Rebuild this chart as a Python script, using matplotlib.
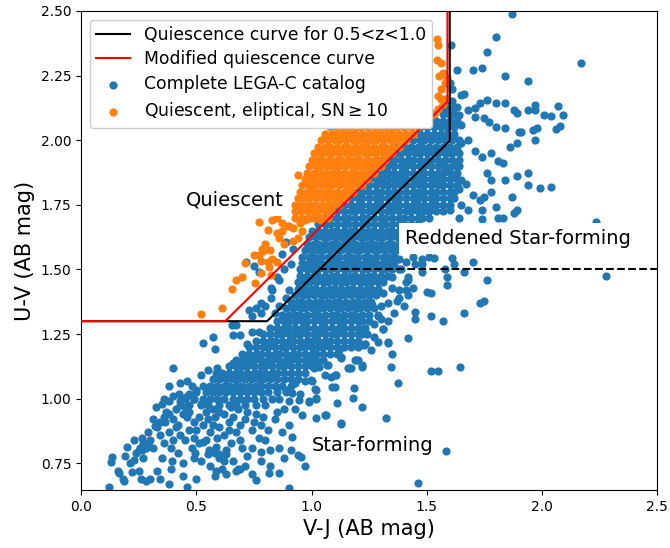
import numpy as np
import matplotlib.pyplot as plt

# quiescence boundaries in the UVJ plane
vj_black = [0.0, 0.807, 1.6, 1.6]
uv_black = [1.3, 1.3, 1.998, 2.6]
vj_red = [0.0, 0.625, 1.59, 1.59]
uv_red = [1.3, 1.3, 2.149, 2.6]
vj_dash = [1.034, 2.5]
uv_dash = [1.5, 1.5]

blue_core_rows = [
    (0.975, [0.43, 0.47, 0.52, 0.55, 0.60, 0.64, 0.67, 0.71, 0.76, 0.80]),
    (1.000, [0.45, 0.49, 0.53, 0.56, 0.59, 0.62, 0.66, 0.69, 0.72, 0.75, 0.79, 0.83]),
    (1.025, [0.50, 0.54, 0.57, 0.60, 0.63, 0.66, 0.69, 0.72, 0.75, 0.78, 0.81, 0.85, 0.89]),
    (1.050, [0.53, 0.56, 0.59, 0.62, 0.64, 0.67, 0.70, 0.73, 0.76, 0.78, 0.81, 0.84, 0.87, 0.91]),
    (1.075, [0.57, 0.60, 0.63, 0.66, 0.68, 0.71, 0.74, 0.77, 0.79, 0.82, 0.85, 0.88, 0.91, 0.94]),
    (1.100, [0.61, 0.64, 0.67, 0.69, 0.72, 0.75, 0.77, 0.80, 0.83, 0.85, 0.88, 0.91, 0.94, 0.97]),
    (1.125, [0.64, 0.67, 0.70, 0.72, 0.75, 0.78, 0.80, 0.83, 0.86, 0.88, 0.91, 0.94, 0.97, 1.00, 1.03]),
    (1.150, [0.67, 0.70, 0.73, 0.75, 0.78, 0.81, 0.83, 0.86, 0.89, 0.91, 0.94, 0.97, 0.99, 1.02, 1.05]),
    (1.175, [0.70, 0.73, 0.76, 0.78, 0.81, 0.84, 0.86, 0.89, 0.92, 0.94, 0.97, 1.00, 1.02, 1.05, 1.08, 1.11]),
    (1.200, [0.73, 0.76, 0.79, 0.81, 0.84, 0.87, 0.89, 0.92, 0.95, 0.97, 1.00, 1.03, 1.05, 1.08, 1.11, 1.14]),
    (1.225, [0.76, 0.79, 0.82, 0.84, 0.87, 0.90, 0.92, 0.95, 0.98, 1.00, 1.03, 1.06, 1.08, 1.11, 1.14, 1.17, 1.20]),
    (1.250, [0.79, 0.82, 0.85, 0.87, 0.90, 0.93, 0.95, 0.98, 1.01, 1.03, 1.06, 1.09, 1.11, 1.14, 1.17, 1.20, 1.22]),
    (1.275, [0.82, 0.85, 0.88, 0.90, 0.93, 0.96, 0.98, 1.01, 1.04, 1.06, 1.09, 1.12, 1.14, 1.17, 1.20, 1.23]),
    (1.300, [0.85, 0.88, 0.90, 0.93, 0.96, 0.98, 1.01, 1.04, 1.06, 1.09, 1.12, 1.14, 1.17, 1.20, 1.22, 1.25]),
    (1.325, [0.87, 0.90, 0.93, 0.95, 0.98, 1.01, 1.03, 1.06, 1.09, 1.11, 1.14, 1.17, 1.19, 1.22, 1.25]),
    (1.350, [0.89, 0.92, 0.95, 0.97, 1.00, 1.03, 1.05, 1.08, 1.11, 1.13, 1.16, 1.19, 1.21, 1.24, 1.27]),
    (1.375, [0.91, 0.94, 0.96, 0.99, 1.02, 1.04, 1.07, 1.10, 1.12, 1.15, 1.18, 1.20, 1.23, 1.26]),
    (1.400, [0.93, 0.96, 0.98, 1.01, 1.04, 1.06, 1.09, 1.12, 1.14, 1.17, 1.20, 1.22, 1.25, 1.28]),
    (1.425, [0.94, 0.97, 1.00, 1.02, 1.05, 1.08, 1.10, 1.13, 1.16, 1.18, 1.21, 1.24, 1.26, 1.29]),
    (1.450, [0.94, 0.97, 0.99, 1.02, 1.05, 1.07, 1.10, 1.13, 1.15, 1.18, 1.21, 1.23, 1.26, 1.29, 1.31]),
    (1.475, [0.95, 0.98, 1.01, 1.03, 1.06, 1.09, 1.11, 1.14, 1.17, 1.19, 1.22, 1.25, 1.27, 1.30, 1.33]),
    (1.500, [0.95, 0.98, 1.00, 1.03, 1.06, 1.08, 1.11, 1.14, 1.16, 1.19, 1.22, 1.24, 1.27, 1.30, 1.32, 1.35]),
    (1.525, [0.96, 0.99, 1.02, 1.04, 1.07, 1.10, 1.12, 1.15, 1.18, 1.20, 1.23, 1.26, 1.28, 1.31, 1.34, 1.36]),
    (1.550, [0.96, 0.99, 1.01, 1.04, 1.07, 1.09, 1.12, 1.15, 1.17, 1.20, 1.23, 1.25, 1.28, 1.31, 1.33, 1.36]),
    (1.575, [0.97, 1.00, 1.03, 1.05, 1.08, 1.11, 1.13, 1.16, 1.19, 1.21, 1.24, 1.27, 1.29, 1.32, 1.35, 1.37]),
    (1.600, [0.98, 1.01, 1.03, 1.06, 1.09, 1.11, 1.14, 1.17, 1.19, 1.22, 1.25, 1.27, 1.30, 1.33, 1.35, 1.38]),
    (1.625, [0.99, 1.02, 1.05, 1.07, 1.10, 1.13, 1.15, 1.18, 1.21, 1.23, 1.26, 1.29, 1.31, 1.34, 1.37]),
    (1.650, [1.00, 1.03, 1.06, 1.09, 1.11, 1.14, 1.17, 1.19, 1.22, 1.25, 1.27, 1.30, 1.33, 1.35, 1.38]),
    (1.675, [1.03, 1.06, 1.08, 1.11, 1.14, 1.16, 1.19, 1.22, 1.24, 1.27, 1.30, 1.32, 1.35, 1.38, 1.40, 1.43, 1.46]),
    (1.700, [1.06, 1.08, 1.11, 1.14, 1.16, 1.19, 1.22, 1.24, 1.27, 1.30, 1.32, 1.35, 1.38, 1.40, 1.43, 1.46, 1.48, 1.51]),
    (1.725, [1.09, 1.11, 1.14, 1.17, 1.19, 1.22, 1.25, 1.27, 1.30, 1.33, 1.35, 1.38, 1.41, 1.43, 1.46, 1.49, 1.51, 1.54, 1.57]),
    (1.750, [1.12, 1.14, 1.17, 1.20, 1.22, 1.25, 1.28, 1.30, 1.33, 1.36, 1.38, 1.41, 1.44, 1.46, 1.49, 1.52, 1.54, 1.57, 1.60]),
    (1.775, [1.14, 1.17, 1.20, 1.22, 1.25, 1.28, 1.30, 1.33, 1.36, 1.38, 1.41, 1.44, 1.46, 1.49, 1.52, 1.54, 1.57, 1.60, 1.62]),
    (1.800, [1.17, 1.20, 1.22, 1.25, 1.28, 1.30, 1.33, 1.36, 1.38, 1.41, 1.44, 1.46, 1.49, 1.52, 1.54, 1.57, 1.60, 1.62]),
    (1.825, [1.20, 1.23, 1.25, 1.28, 1.31, 1.33, 1.36, 1.39, 1.41, 1.44, 1.47, 1.49, 1.52, 1.55, 1.57, 1.60, 1.63]),
    (1.850, [1.22, 1.25, 1.28, 1.30, 1.33, 1.36, 1.38, 1.41, 1.44, 1.46, 1.49, 1.52, 1.54, 1.57, 1.60, 1.63]),
    (1.875, [1.25, 1.28, 1.31, 1.33, 1.36, 1.39, 1.41, 1.44, 1.47, 1.49, 1.52, 1.55, 1.57, 1.60, 1.63]),
    (1.900, [1.28, 1.31, 1.33, 1.36, 1.39, 1.41, 1.44, 1.47, 1.49, 1.52, 1.55, 1.58, 1.61, 1.64]),
    (1.925, [1.31, 1.34, 1.36, 1.39, 1.42, 1.44, 1.47, 1.50, 1.52, 1.55, 1.58, 1.61, 1.64]),
    (1.950, [1.34, 1.37, 1.39, 1.42, 1.45, 1.47, 1.50, 1.53, 1.55, 1.58, 1.61, 1.64]),
    (1.975, [1.37, 1.40, 1.43, 1.46, 1.48, 1.51, 1.54, 1.57, 1.60, 1.63]),
    (2.000, [1.41, 1.44, 1.47, 1.49, 1.52, 1.55, 1.58, 1.61, 1.64]),
    (2.025, [1.44, 1.47, 1.50, 1.53, 1.56, 1.59, 1.62]),
    (2.050, [1.47, 1.50, 1.53, 1.56, 1.59, 1.62]),
    (2.075, [1.50, 1.54, 1.57, 1.60, 1.63]),
    (2.100, [1.53, 1.57, 1.60, 1.62]),
    (2.125, [1.56, 1.59, 1.62]),
    (2.150, [1.58, 1.61]),
]

# scattered LEGA-C galaxies outside the dense core: (V-J, U-V)
blue_low = [
    (0.12, 0.66), (0.13, 0.755), (0.135, 0.775), (0.165, 0.713), (0.18, 0.69), (0.185, 0.68),
    (0.20, 0.813), (0.22, 0.717), (0.23, 0.763), (0.25, 0.80), (0.255, 0.81), (0.26, 0.805),
    (0.265, 0.80), (0.265, 0.85), (0.27, 0.83), (0.28, 0.81), (0.29, 0.825), (0.30, 0.84),
    (0.31, 0.81), (0.26, 0.69), (0.28, 0.68), (0.30, 0.69), (0.325, 0.968), (0.35, 0.98),
    (0.33, 0.89), (0.34, 0.91), (0.32, 0.895), (0.33, 0.72), (0.34, 0.69), (0.36, 0.93),
    (0.37, 0.95), (0.38, 0.94), (0.365, 0.91), (0.40, 1.01), (0.425, 1.02), (0.41, 0.96),
    (0.40, 0.92), (0.41, 0.89), (0.43, 0.86), (0.40, 0.84), (0.39, 0.81), (0.39, 0.73),
    (0.395, 0.76), (0.44, 0.70), (0.455, 1.005), (0.47, 1.02), (0.50, 1.035), (0.49, 1.00),
    (0.47, 0.95), (0.49, 0.91), (0.46, 0.93), (0.50, 0.88), (0.49, 0.85), (0.51, 0.83),
    (0.49, 0.77), (0.495, 0.79), (0.46, 0.66), (0.50, 0.69), (0.54, 0.95), (0.55, 0.92),
    (0.57, 0.90), (0.58, 0.93), (0.60, 0.89), (0.62, 0.94), (0.64, 0.91), (0.66, 0.93),
    (0.68, 0.96), (0.69, 0.90), (0.71, 0.92), (0.54, 0.84), (0.555, 0.80), (0.58, 0.79),
    (0.60, 0.77), (0.62, 0.76), (0.63, 0.80), (0.65, 0.83), (0.66, 0.76), (0.68, 0.73),
    (0.69, 0.84), (0.70, 0.81), (0.72, 0.78), (0.74, 0.81), (0.76, 0.686), (0.815, 0.713),
    (0.86, 0.713), (0.90, 0.655), (0.97, 0.74), (0.915, 0.852), (0.94, 0.782), (0.78, 0.795),
    (0.82, 0.80), (0.86, 0.81), (0.60, 0.785), (0.63, 0.785), (0.55, 0.786), (0.67, 0.72),
    (0.69, 0.73), (0.585, 0.72), (0.61, 0.73), (0.53, 0.833), (0.585, 0.813), (0.78, 0.90),
    (0.81, 0.88), (0.84, 0.92), (0.87, 0.87), (0.90, 0.90), (0.77, 0.85), (0.80, 0.84),
    (0.85, 0.95), (0.88, 0.96), (0.93, 0.96), (0.74, 0.88), (0.76, 0.94), (0.34, 0.86),
    (0.36, 0.83), (0.38, 0.87), (0.42, 0.90), (0.44, 0.94), (0.45, 0.97), (0.43, 0.99),
    (0.38, 0.99), (0.36, 1.00), (0.52, 0.98), (0.51, 0.93), (0.53, 0.90), (0.56, 0.87),
    (0.59, 0.85), (0.62, 0.86), (0.64, 0.88), (0.67, 0.87), (0.47, 0.88), (0.45, 0.84),
    (0.48, 0.81), (0.52, 0.76), (0.56, 0.74), (0.58, 0.70), (0.63, 0.71), (0.71, 0.74),
    (0.74, 0.71), (0.78, 0.76), (0.82, 0.74), (0.88, 0.77), (0.91, 0.80), (0.29, 0.87),
    (0.31, 0.92), (0.27, 0.77), (0.24, 0.79), (0.21, 0.75), (0.16, 0.72), (0.19, 0.78),
    (0.23, 0.84), (0.35, 0.77), (0.42, 0.79), (0.44, 0.75), (0.38, 0.67), (0.25, 0.72),
    (0.57, 0.96), (0.60, 0.95), (0.65, 0.97), (0.72, 0.95), (0.75, 0.91), (0.79, 0.93),
    (0.40, 1.12), (0.53, 1.216), (0.57, 1.24), (0.58, 1.193), (0.66, 1.247), (0.69, 1.247),
    (0.74, 1.26), (0.77, 1.26), (0.72, 1.17), (0.72, 1.21), (0.66, 1.14), (0.67, 1.14),
    (0.585, 1.10), (0.59, 1.12), (0.38, 1.05), (0.43, 1.06), (0.46, 1.07), (0.52, 1.09),
    (0.55, 1.11), (0.48, 1.05),
]

blue_mid = [
    (0.716, 1.53), (0.77, 1.49), (0.76, 1.35), (0.78, 1.37), (0.80, 1.36), (0.73, 1.343),
    (0.86, 1.46), (0.825, 1.39), (0.825, 1.43), (0.89, 1.39), (0.90, 1.42), (0.655, 1.285),
    (0.67, 1.285), (0.74, 1.32), (0.78, 1.33), (0.83, 1.42), (0.85, 1.47), (0.75, 1.515),
    (0.89, 1.607), (0.87, 1.56), (0.91, 1.52), (0.92, 1.58), (0.88, 1.50), (0.84, 1.33),
    (0.86, 1.36), (0.89, 1.034), (0.915, 1.022), (0.946, 0.995), (0.998, 1.073), (1.02, 1.034),
    (1.063, 0.937), (1.09, 1.045), (1.128, 0.906), (1.163, 1.12), (1.193, 1.15), (1.22, 1.13),
    (1.185, 1.04), (1.22, 0.968), (1.228, 1.208), (1.263, 1.363), (1.107, 1.092), (1.068, 1.13),
    (1.033, 1.123), (0.86, 1.00), (0.90, 0.99), (0.95, 1.02), (0.99, 0.99), (1.02, 1.00),
    (0.93, 1.06), (0.97, 1.07), (1.00, 1.07), (1.06, 1.09), (1.01, 1.12), (1.07, 1.13),
    (1.10, 1.09), (1.13, 1.16), (1.16, 1.12), (1.19, 1.15), (1.12, 1.19), (1.17, 1.20),
    (1.20, 1.21), (1.23, 1.21), (1.26, 1.19), (1.24, 1.25), (1.27, 1.24), (1.31, 1.27),
    (1.29, 1.22), (1.33, 1.22), (1.27, 1.29), (1.30, 1.31), (1.33, 1.30), (1.29, 1.32),
    (1.36, 1.33), (1.30, 1.36), (1.33, 1.37), (1.37, 1.38), (1.40, 1.36), (1.42, 1.40),
    (1.31, 1.41), (1.35, 1.43), (1.38, 1.42), (1.41, 1.45), (1.44, 1.43), (1.35, 1.47),
    (1.38, 1.50), (1.42, 1.47), (1.45, 1.52), (1.48, 1.49), (1.38, 1.54), (1.41, 1.53),
    (1.44, 1.55), (1.48, 1.54), (1.51, 1.55), (1.53, 1.545), (1.61, 1.545), (1.58, 1.50),
    (1.59, 1.47), (1.59, 1.44), (1.50, 1.413), (1.52, 1.41), (1.45, 1.336), (1.45, 1.31),
    (1.52, 1.32), (1.57, 1.30), (1.66, 1.33), (1.73, 1.37), (1.75, 1.38), (1.38, 1.39),
    (1.41, 1.42), (1.42, 1.46), (1.48, 1.52), (1.39, 1.50), (1.42, 1.235), (1.33, 1.216),
    (1.35, 1.173), (1.345, 1.122), (1.376, 1.06), (1.325, 0.926), (1.52, 1.107), (1.55, 1.107),
    (1.645, 1.122), (1.585, 0.798), (1.46, 0.674), (1.29, 1.324), (1.31, 1.27), (1.23, 1.21),
    (1.20, 1.20), (1.22, 1.123), (1.17, 1.12), (1.20, 1.15), (1.18, 1.003), (1.13, 1.157),
    (1.11, 0.983), (1.13, 0.902), (1.10, 1.045), (1.06, 0.937), (1.02, 0.926), (1.02, 1.003),
    (0.99, 0.988), (0.96, 0.937), (0.955, 0.775), (1.015, 1.038), (1.085, 1.084),
    (1.62, 1.52), (1.66, 1.49), (1.70, 1.53), (1.76, 1.46),
]

blue_high = [
    (2.235, 1.684), (2.28, 1.475), (1.60, 1.73), (1.64, 1.70), (1.74, 1.695), (1.81, 1.70),
    (1.89, 1.73), (1.97, 2.00), (1.94, 1.873), (1.94, 1.827), (1.99, 1.815), (2.04, 1.82),
    (1.89, 1.86), (1.84, 1.846), (1.87, 1.78), (1.88, 1.72), (1.83, 1.70), (1.80, 1.74),
    (1.78, 1.80), (1.75, 1.78), (1.73, 1.77), (1.70, 1.79), (1.74, 1.73), (1.68, 1.73),
    (1.65, 1.75), (1.64, 1.81), (1.67, 1.83), (1.65, 1.846), (1.61, 1.86), (1.63, 1.90),
    (1.58, 1.885), (1.57, 1.915), (1.59, 1.95), (1.63, 1.96), (1.65, 1.99), (1.68, 2.00),
    (1.71, 1.96), (1.74, 1.935), (1.78, 1.95), (1.81, 1.92), (1.76, 1.873), (1.78, 1.846),
    (1.83, 1.91), (1.86, 1.973), (1.89, 1.99), (1.91, 2.03), (1.80, 2.144), (1.84, 2.144),
    (1.88, 2.117), (1.89, 2.105), (1.94, 2.117), (1.97, 2.136), (1.97, 2.117), (2.01, 2.098),
    (2.04, 2.094), (2.07, 2.133), (2.09, 2.098), (2.08, 2.055), (2.06, 2.044), (1.98, 2.047),
    (1.96, 2.04), (1.90, 2.03), (1.84, 2.047), (1.80, 2.05), (1.77, 2.07), (1.71, 2.125),
    (1.68, 2.117), (1.71, 2.09), (1.75, 2.086), (1.76, 2.156), (1.73, 2.144), (1.64, 2.098),
    (1.65, 2.06), (1.63, 2.13), (1.60, 2.098), (1.84, 2.25), (1.94, 2.23), (1.65, 2.175),
    (1.66, 2.18), (1.63, 2.27), (1.70, 2.27), (1.74, 2.28), (1.76, 2.34), (1.80, 2.40),
    (1.87, 2.49), (2.17, 2.30), (1.607, 2.37), (1.60, 2.22), (1.61, 2.20),
]

# quiescent, elliptical, SN >= 10 subsample
orange_core_rows = [
    (1.700, [0.93, 0.96, 0.99, 1.01, 1.04, 1.07]),
    (1.725, [0.93, 0.95, 0.98, 1.01, 1.03, 1.06, 1.09]),
    (1.750, [0.93, 0.96, 0.99, 1.01, 1.04, 1.07, 1.09, 1.12]),
    (1.775, [0.94, 0.97, 0.99, 1.02, 1.05, 1.07, 1.10, 1.13, 1.15]),
    (1.800, [0.95, 0.98, 1.00, 1.03, 1.06, 1.08, 1.11, 1.14, 1.16, 1.18]),
    (1.825, [0.96, 0.99, 1.01, 1.04, 1.07, 1.09, 1.12, 1.15, 1.17, 1.20, 1.22]),
    (1.850, [0.97, 1.00, 1.02, 1.05, 1.08, 1.10, 1.13, 1.16, 1.18, 1.21, 1.24]),
    (1.875, [0.98, 1.01, 1.03, 1.06, 1.09, 1.11, 1.14, 1.17, 1.19, 1.22, 1.25, 1.27]),
    (1.900, [0.99, 1.02, 1.04, 1.07, 1.10, 1.12, 1.15, 1.18, 1.20, 1.23, 1.26, 1.28, 1.30]),
    (1.925, [1.00, 1.03, 1.05, 1.08, 1.11, 1.13, 1.16, 1.19, 1.21, 1.24, 1.27, 1.29, 1.32]),
    (1.950, [1.01, 1.04, 1.07, 1.09, 1.12, 1.15, 1.17, 1.20, 1.23, 1.25, 1.28, 1.31, 1.33, 1.35]),
    (1.975, [1.03, 1.06, 1.08, 1.11, 1.14, 1.16, 1.19, 1.22, 1.24, 1.27, 1.30, 1.32, 1.35, 1.38]),
    (2.000, [1.04, 1.07, 1.10, 1.12, 1.15, 1.18, 1.20, 1.23, 1.26, 1.28, 1.31, 1.34, 1.36, 1.39, 1.41]),
    (2.025, [1.06, 1.09, 1.11, 1.14, 1.17, 1.19, 1.22, 1.25, 1.27, 1.30, 1.33, 1.35, 1.38, 1.41, 1.44]),
    (2.050, [1.08, 1.11, 1.13, 1.16, 1.19, 1.21, 1.24, 1.27, 1.29, 1.32, 1.35, 1.37, 1.40, 1.43, 1.46]),
    (2.075, [1.10, 1.13, 1.16, 1.19, 1.22, 1.25, 1.28, 1.31, 1.34, 1.37, 1.40, 1.43, 1.46, 1.49]),
]

orange_pts = [
    (0.773, 1.684), (0.81, 1.653), (0.83, 1.69), (0.85, 1.70), (0.87, 1.68), (0.89, 1.67),
    (0.85, 1.64), (0.86, 1.62), (0.87, 1.65), (0.90, 1.67), (0.92, 1.66), (0.95, 1.68),
    (0.92, 1.61), (0.94, 1.62), (0.80, 1.60), (0.785, 1.58), (0.79, 1.57), (0.82, 1.575),
    (0.75, 1.556), (0.77, 1.556), (0.81, 1.53), (0.83, 1.54), (0.85, 1.53), (0.78, 1.533),
    (0.815, 1.51), (0.825, 1.48), (0.71, 1.525), (0.78, 1.487), (0.67, 1.46), (0.70, 1.47),
    (0.755, 1.448), (0.655, 1.424), (0.61, 1.35), (0.52, 1.328), (0.96, 1.65), (0.97, 1.69),
    (0.99, 1.70), (1.02, 1.70), (1.04, 1.69), (0.88, 1.60), (0.94, 1.866),
    (1.53, 2.10), (1.55, 2.12), (1.57, 2.14), (1.56, 2.16), (1.55, 2.17), (1.58, 2.16),
    (1.56, 2.20), (1.58, 2.22), (1.555, 2.25), (1.57, 2.26), (1.59, 2.24), (1.545, 2.31),
    (1.56, 2.30), (1.55, 2.37), (1.545, 2.39),
]


def unpack_rows(rows):
    vj, uv = [], []
    for y, xs in rows:
        vj += xs
        uv += [y] * len(xs)
    return vj, uv


core_vj, core_uv = unpack_rows(blue_core_rows)
sparse = np.array(blue_low + blue_mid + blue_high)
blue_vj = np.concatenate([core_vj, sparse[:, 0]])
blue_uv = np.concatenate([core_uv, sparse[:, 1]])

ocore_vj, ocore_uv = unpack_rows(orange_core_rows)
osparse = np.array(orange_pts)
orange_vj = np.concatenate([ocore_vj, osparse[:, 0]])
orange_uv = np.concatenate([ocore_uv, osparse[:, 1]])

fig = plt.figure(figsize=(6.7, 5.48), dpi=100)
ax = fig.add_axes([0.1212, 0.1058, 0.8595, 0.8742])

l1, = ax.plot(vj_black, uv_black, color='k', zorder=3, label='Quiescence curve for 0.5<z<1.0')
l2, = ax.plot(vj_red, uv_red, color='red', zorder=3, label='Modified quiescence curve')
ax.plot(vj_dash, uv_dash, 'k--', zorder=3)
s1 = ax.scatter(blue_vj, blue_uv, s=24, color='C0', label='Complete LEGA-C catalog')
s2 = ax.scatter(orange_vj, orange_uv, s=24, color='C1', label=r'Quiescent, eliptical, SN$\geq$10')

box = dict(facecolor='white', edgecolor='none')
ax.text(0.455, 1.767, 'Quiescent', fontsize=14, va='center', bbox=box, zorder=4)
ax.text(1.405, 1.62, 'Reddened Star-forming', fontsize=14, va='center', bbox=box, zorder=4)
ax.text(1.0, 0.818, 'Star-forming', fontsize=14, va='center', bbox=box, zorder=4)

ax.set_xlim(0, 2.5)
ax.set_ylim(0.647, 2.5)
ax.set_xlabel('V-J (AB mag)', fontsize=15)
ax.set_ylabel('U-V (AB mag)', fontsize=15)
ax.legend(handles=[l1, l2, s1, s2], loc='upper left', fontsize=12.4,
          labelspacing=0.4, borderpad=0.35, framealpha=1)

fig.savefig('out.png', dpi=100)
